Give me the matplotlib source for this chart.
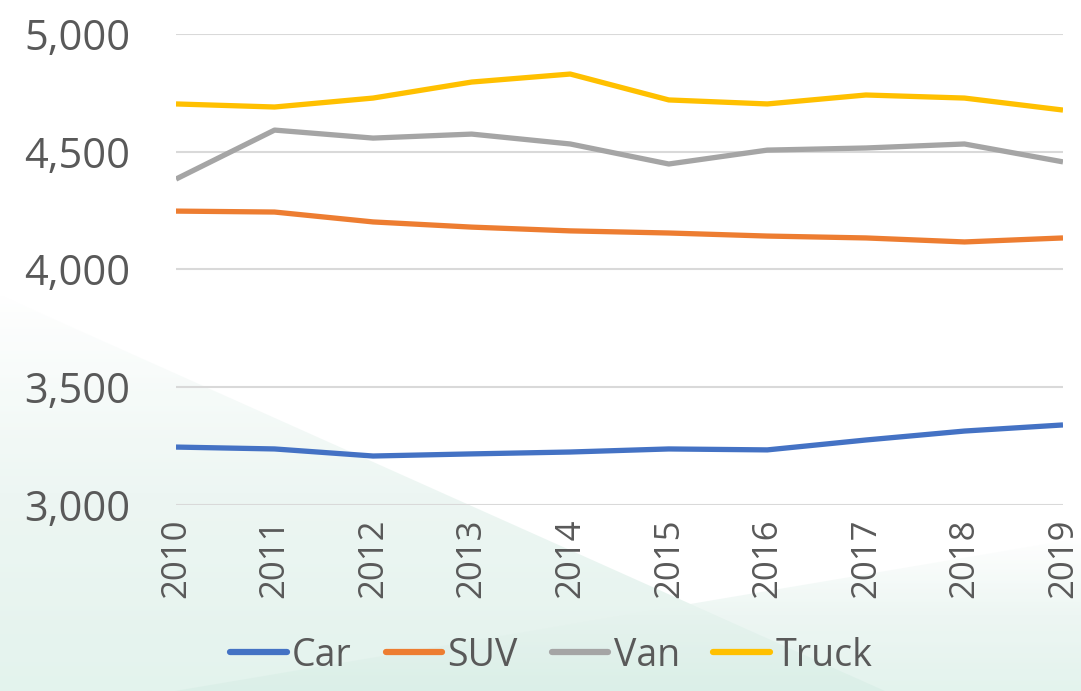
import numpy as np
import matplotlib
matplotlib.use("Agg")
import matplotlib.pyplot as plt
from matplotlib.patches import Polygon
from matplotlib.colors import LinearSegmentedColormap
from matplotlib.ticker import FuncFormatter

years = [2010, 2011, 2012, 2013, 2014, 2015, 2016, 2017, 2018, 2019]
car = [3246, 3238, 3208, 3217, 3225, 3238, 3234, 3276, 3314, 3340]
suv = [4248, 4244, 4202, 4180, 4164, 4155, 4142, 4134, 4117, 4134]
van = [4384, 4592, 4558, 4575, 4533, 4448, 4507, 4516, 4533, 4457]
truck = [4703, 4690, 4728, 4796, 4830, 4720, 4703, 4741, 4728, 4677]

series = [("Car", car, "#4472c4"), ("SUV", suv, "#ed7d31"),
          ("Van", van, "#a5a5a5"), ("Truck", truck, "#ffc000")]

plt.rcParams['font.family'] = ['Open Sans', 'DejaVu Sans']
W, H = 1081, 691
fig = plt.figure(figsize=(W/100, H/100), dpi=100)
fig.patch.set_facecolor("white")

# faint green background shapes (vertical gradient, clipped to polygons)
bg = fig.add_axes([0, 0, 1, 1], zorder=0)
bg.set_xlim(0, W)
bg.set_ylim(H, 0)
bg.axis("off")
cmap = LinearSegmentedColormap.from_list("bg", ["#ffffff", "#e6f3ee", "#d8eee6"])
grad = np.linspace(0, 1, 256)[:, None]
shapes = [[(0, 295), (0, H), (885, H)],
          [(175, H), (W, 538), (W, H)]]
for pts in shapes:
    poly = Polygon(pts, closed=True, facecolor="none", edgecolor="none")
    bg.add_patch(poly)
    top = min(p[1] for p in pts)
    im = bg.imshow(grad, cmap=cmap, extent=(0, W, H, top), aspect="auto",
                   alpha=0.7, vmin=0, vmax=1)
    im.set_clip_path(poly)

ax = fig.add_axes([176/W, 1 - 505/H, (1063-176)/W, (505-34)/H], zorder=2)
ax.set_facecolor("none")

for name, vals, col in series:
    ax.plot(years, vals, color=col, lw=3.8, label=name, solid_capstyle="butt")

ax.set_xlim(2010, 2019)
ax.set_ylim(3000, 5000)
ax.set_yticks([3000, 3500, 4000, 4500, 5000])
ax.yaxis.set_major_formatter(FuncFormatter(lambda v, p: f"{int(v):,}"))
ax.set_xticks(years)
ax.set_xticklabels([str(y) for y in years], rotation=90)
ax.grid(axis="y", color="#d9d9d9", lw=1.5)
ax.set_axisbelow(True)
for s in ax.spines.values():
    s.set_visible(False)
ax.tick_params(axis="y", length=0, pad=33, labelsize=30, labelcolor="#595959")
ax.tick_params(axis="x", length=0, pad=10, labelsize=25, labelcolor="#595959")

leg = fig.legend(loc="lower center", bbox_to_anchor=(0.51, -0.025), ncol=4,
                 frameon=False, fontsize=27, handlelength=1.5,
                 handletextpad=0.15, columnspacing=0.9)
leg.set_zorder(3)
for t in leg.get_texts():
    t.set_color("#595959")
for l in leg.get_lines():
    l.set_linewidth(4.5)
    l.set_solid_capstyle("round")

fig.savefig("out.png", dpi=100)
